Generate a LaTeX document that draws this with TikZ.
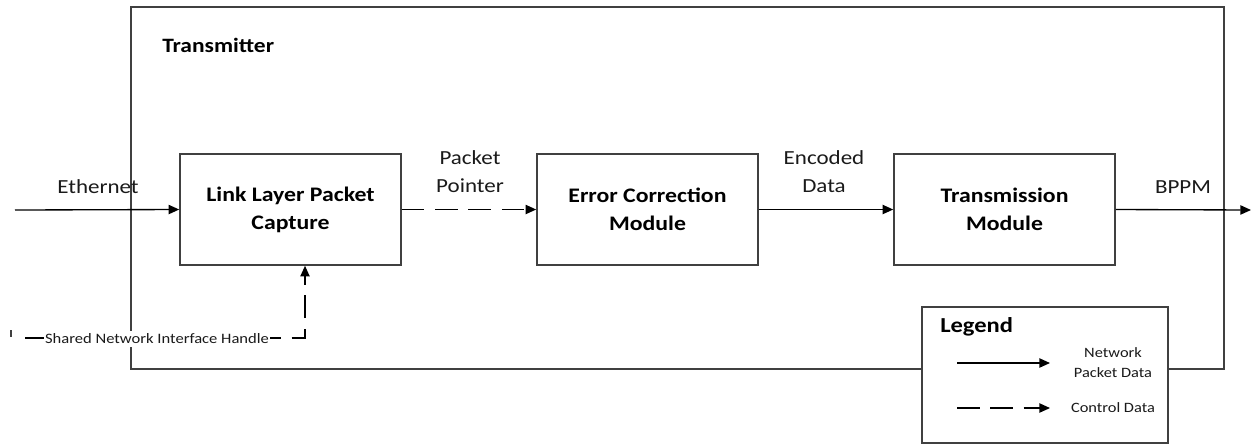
\documentclass[tikz,border=0pt]{standalone}
\usepackage{fontspec}
\setmainfont{Carlito}[FakeStretch=1.15]
\usetikzlibrary{arrows.meta}
\definecolor{edge}{HTML}{404040}
\definecolor{ink}{HTML}{1A1A1A}
\begin{document}
\begin{tikzpicture}[x=0.75pt,y=-0.75pt,
  blk/.style={draw=edge, line width=1.2pt, fill=white, minimum width=165.75pt, minimum height=83.25pt,
    align=center, font=\fontsize{15.5}{21}\selectfont\bfseries, text=black, inner sep=0pt},
  lbl/.style={font=\fontsize{15}{21}\selectfont, text=ink, align=center, inner sep=0pt},
  small/.style={font=\fontsize{10.8}{15}\selectfont, text=ink, align=center},
  flow/.style={line width=1pt, draw=black, -{Triangle[length=8pt,width=7pt]}},
  ctrl/.style={flow, dash pattern=on 17pt off 8pt},
  frame/.style={draw=edge, line width=0.8pt, fill=none, inner sep=0pt}]
\useasboundingbox (0,0) rectangle (1255,444);
% outer transmitter frame
\node[frame, minimum width=819.75pt, minimum height=271.5pt] (tx) at (677.5,188) {};
\node[font=\fontsize{15.3}{18}\selectfont\bfseries, anchor=base west, inner sep=0pt, text=black] (txl) at (162,52) {Transmitter};
% blocks
\node[blk] (ll) at (290.5,209.5) {Link Layer Packet\\Capture};
\node[blk] (ec) at (647.5,209.5) {Error Correction\\Module};
\node[blk] (tm) at (1004.5,209.5) {Transmission\\Module};
% external ends
\coordinate (ein) at (15,210);
\coordinate (bout) at (1251,210);
\draw[flow] (ein) -- (ll.west);
\draw[ctrl] (ll.east) -- (ec.west);
\draw[flow] (ec.east) -- (tm.west);
\draw[flow] (tm.east) -- (bout);
% labels
\node[lbl, anchor=base] (leth) at (98,193) {Ethernet};
\node[lbl] (lpp) at (470,172) {Packet\\Pointer};
\node[lbl] (led) at (824,172) {Encoded\\Data};
\node[lbl, anchor=base] (lbp) at (1183,193) {BPPM};
% shared network interface handle
\coordinate (hs) at (25,338);
\coordinate (hc) at (305,338);
\draw[ctrl] (hs) -- (hc) -- (hc |- ll.south);
\node[small, fill=white, inner xsep=1pt, inner ysep=2pt] (lsh) at (157,339) {Shared Network Interface Handle};
\coordinate (tk1) at (11,330);
\coordinate (tk2) at (11,337);
\draw[line width=0.9pt, draw=edge] (tk1) -- (tk2);
% legend
\node[draw=edge, line width=1pt, fill=white, minimum width=184.5pt, minimum height=102pt, inner sep=0pt] (lg) at (1045,375) {};
\node[font=\fontsize{16}{18}\selectfont\bfseries, anchor=base west, inner sep=0pt, text=black] (lgt) at (940,332) {Legend};
\coordinate (la1) at (957,363);
\coordinate (lb1) at (1050,363);
\coordinate (la2) at (957,408);
\coordinate (lb2) at (1050,408);
\draw[flow] (la1) -- (lb1);
\draw[ctrl] (la2) -- (lb2);
\node[small, font=\fontsize{10.7}{15}\selectfont, inner sep=0pt] (lgn) at (1113,363) {Network\\Packet Data};
\node[small, font=\fontsize{10.7}{15}\selectfont, inner sep=0pt] (lgc) at (1113,408) {Control Data};
\end{tikzpicture}
\end{document}
